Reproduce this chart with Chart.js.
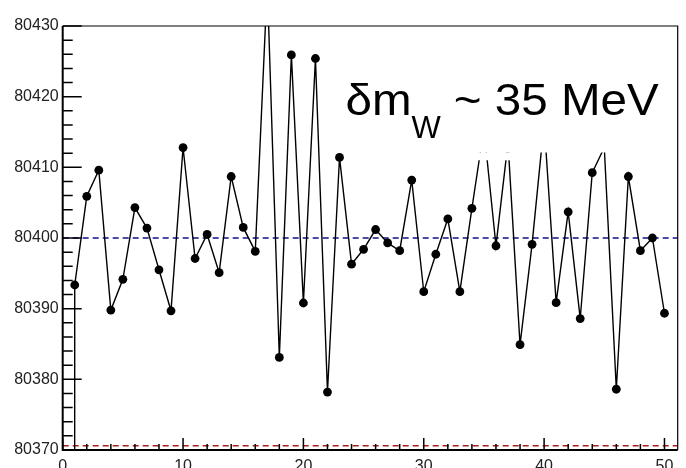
<!DOCTYPE html>
<html>
<head>
<meta charset="utf-8">
<script src="https://cdn.jsdelivr.net/npm/chart.js@4/dist/chart.umd.min.js"></script>
<style>
  html, body { margin: 0; padding: 0; background: #ffffff; }
  #wrap { width: 686px; height: 468px; }
</style>
</head>
<body>
<div id="wrap"><canvas id="c" width="686" height="468"></canvas></div>
<script>
// Pseudo-experiment index (0 is the empty first entry of the graph)
const runs = [0, 1, 2, 3, 4, 5, 6, 7, 8, 9, 10,
  11, 12, 13, 14, 15, 16, 17, 18, 19, 20,
  21, 22, 23, 24, 25, 26, 27, 28, 29, 30,
  31, 32, 33, 34, 35, 36, 37, 38, 39, 40,
  41, 42, 43, 44, 45, 46, 47, 48, 49, 50];

// Fitted W mass per pseudo-experiment (MeV)
const fittedMass = [0, 80393.35, 80405.9, 80409.6, 80389.8, 80394.15, 80404.3, 80401.4, 80395.5, 80389.7, 80412.8,
  80397.1, 80400.5, 80395.1, 80408.7, 80401.5, 80398.1, 80436.0, 80383.1, 80425.9, 80390.8,
  80425.4, 80378.2, 80411.4, 80396.3, 80398.4, 80401.2, 80399.3, 80398.2, 80408.2, 80392.4,
  80397.7, 80402.7, 80392.4, 80404.2, 80415.5, 80398.9, 80413.5, 80384.9, 80399.1, 80416.3,
  80390.85, 80403.7, 80388.6, 80409.25, 80412.8, 80378.6, 80408.7, 80398.2, 80400.0, 80389.35];

// Reference lines
const inputMass = 80400;
const lowerMass = 80370.6;

// Axis ranges and tick labels
const xRange = [0, 51.1];
const yRange = [80370, 80430];
const xTickLabels = ['0', '10', '20', '30', '40', '50'];
const yTickLabels = ['80370', '80380', '80390', '80400', '80410', '80420', '80430'];

const annotationParts = { main: 'δm', sub: 'W', tail: '~ 35 MeV' };

const points = runs.map((r, i) => ({ x: r, y: fittedMass[i] }));
const hline = v => [{ x: xRange[0], y: v }, { x: xRange[1], y: v }];

const FONT = '"Liberation Sans", Arial, Helvetica, sans-serif';

// Frame, inward tick marks, white label pad and the resolution annotation
const framePlugin = {
  id: 'rootFrame',
  afterDatasetsDraw(chart) {
    const { ctx, chartArea: a, scales } = chart;
    const xs = scales.x, ys = scales.y;
    ctx.save();

    // white pad behind the annotation
    ctx.fillStyle = '#ffffff';
    const padL = xs.getPixelForValue(23.35), padR = xs.getPixelForValue(50.0);
    const padB = ys.getPixelForValue(80412.1);
    ctx.fillRect(padL, a.top, padR - padL, padB - a.top);
    const n1 = xs.getPixelForValue(34.3), n2 = xs.getPixelForValue(39.0);
    ctx.fillRect(n1, padB, n2 - n1, ys.getPixelForValue(80411.0) - padB);

    // annotation text (slightly widened glyphs)
    const sx = 1.08;
    const tx = xs.getPixelForValue(23.5);
    const ty = ys.getPixelForValue(80417.4);
    ctx.fillStyle = '#000000';
    ctx.textBaseline = 'alphabetic';
    ctx.textAlign = 'left';

    ctx.save();
    ctx.translate(tx, ty);
    ctx.scale(sx, 1);
    ctx.font = '44px ' + FONT;
    ctx.fillText(annotationParts.main, 0, 0);
    const mainW = ctx.measureText(annotationParts.main).width * sx;
    ctx.restore();

    ctx.font = '31px ' + FONT;
    const subX = tx + mainW;
    ctx.fillText(annotationParts.sub, subX, ty + 23);
    const subW = ctx.measureText(annotationParts.sub).width;

    ctx.save();
    ctx.translate(subX + subW + 13, ty);
    ctx.font = '44px ' + FONT;
    const tailW = ctx.measureText(annotationParts.tail).width;
    ctx.scale(205 / tailW, 1);
    ctx.fillText(annotationParts.tail, 0, 0);
    ctx.restore();

    // frame
    ctx.strokeStyle = '#000000';
    ctx.lineWidth = 1.2;
    ctx.beginPath();
    ctx.moveTo(a.left, a.top); ctx.lineTo(a.right, a.top); ctx.lineTo(a.right, a.bottom);
    ctx.stroke();
    ctx.lineWidth = 2;
    ctx.beginPath();
    ctx.moveTo(a.left, a.top); ctx.lineTo(a.left, a.bottom); ctx.lineTo(a.right, a.bottom);
    ctx.stroke();

    // inward ticks
    ctx.lineWidth = 1.5;
    ctx.beginPath();
    for (let v = yRange[0]; v <= yRange[1] + 1e-6; v += 2) {
      const major = Math.abs((v - yRange[0]) % 10) < 1e-6;
      const py = ys.getPixelForValue(v);
      ctx.moveTo(a.left, py); ctx.lineTo(a.left + (major ? 19 : 10), py);
    }
    for (let v = 0; v <= xRange[1] + 1e-6; v += 2) {
      const major = v % 10 === 0;
      const px = xs.getPixelForValue(v);
      ctx.moveTo(px, a.bottom); ctx.lineTo(px, a.bottom - (major ? 12 : 6));
    }
    ctx.stroke();
    ctx.restore();
  }
};

new Chart(document.getElementById('c'), {
  type: 'line',
  data: {
    datasets: [
      {
        label: 'fit',
        data: points,
        borderColor: '#000000',
        borderWidth: 1.4,
        backgroundColor: '#000000',
        pointRadius: c => (c.dataIndex === 0 ? 0 : 4.4),
        pointHoverRadius: 0,
        pointBorderWidth: 0,
        tension: 0,
        fill: false
      },
      {
        label: 'input',
        data: hline(inputMass),
        borderColor: '#10108a',
        borderWidth: 1.3,
        borderDash: [6, 4],
        pointRadius: 0,
        fill: false
      },
      {
        label: 'lower',
        data: hline(lowerMass),
        borderColor: '#a81e1e',
        borderWidth: 1.3,
        borderDash: [6, 4],
        pointRadius: 0,
        fill: false
      }
    ]
  },
  options: {
    responsive: false,
    animation: false,
    events: [],
    layout: { padding: { left: 12.7, right: 8.3, top: 26, bottom: 0 } },
    plugins: { legend: { display: false }, tooltip: { enabled: false } },
    scales: {
      x: {
        type: 'linear',
        min: xRange[0],
        max: xRange[1],
        grid: { display: false, drawTicks: false },
        border: { display: false },
        afterFit: s => { s.height = 18; },
        ticks: {
          stepSize: 10,
          includeBounds: false,
          autoSkip: false,
          maxRotation: 0,
          padding: 7,
          color: '#222222',
          font: { family: FONT, size: 16 },
          callback: v => xTickLabels.includes(String(v)) ? String(v) : null
        }
      },
      y: {
        type: 'linear',
        min: yRange[0],
        max: yRange[1],
        grid: { display: false, drawTicks: false },
        border: { display: false },
        afterFit: s => { s.width = 50; },
        ticks: {
          stepSize: 10,
          autoSkip: false,
          padding: 4,
          color: '#222222',
          font: { family: FONT, size: 16 },
          callback: v => yTickLabels.includes(String(v)) ? String(v) : null
        }
      }
    }
  },
  plugins: [framePlugin]
});
</script>
</body>
</html>
